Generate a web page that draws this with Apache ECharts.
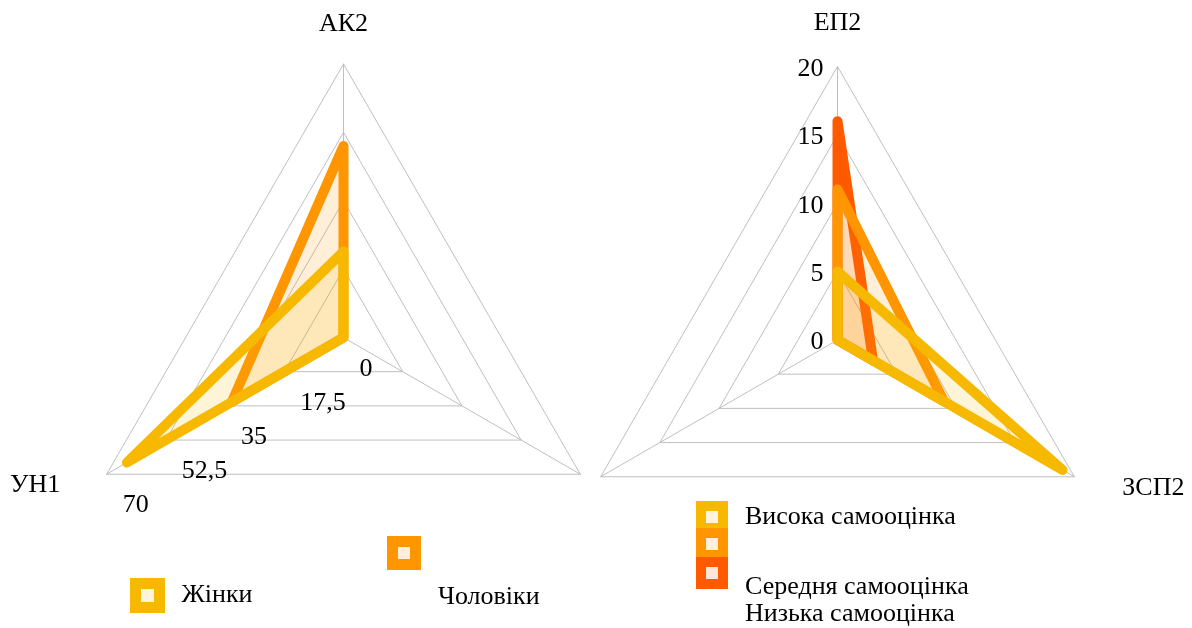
<!DOCTYPE html>
<html>
<head>
<meta charset="utf-8">
<script src="https://cdn.jsdelivr.net/npm/echarts@6/dist/echarts.min.js"></script>
<style>
  html, body { margin: 0; padding: 0; background: #fff; }
  #chart { width: 1192px; height: 628px; }
</style>
</head>
<body>
<div id="chart"></div>
<script>
// Left radar: results by gender
const genderAxes = ['АК2', 'УН1', ''];
const genderMax = 70;
const genderTicks = ['0', '17,5', '35', '52,5', '70'];
const women = [22, 64, 0];
const men = [49, 33, 0];

// Right radar: results by self-esteem level
const esteemAxes = ['ЕП2', '', 'ЗСП2'];
const esteemMax = 20;
const esteemTicks = ['0', '5', '10', '15', '20'];
const highEsteem = [5, 0, 19];
const midEsteem = [11, 0, 9];
const lowEsteem = [16, 0, 3];

const FONT = '"Liberation Serif", "Times New Roman", serif';
const FS = 26;
const GRID = '#BFBFBF';
const YELLOW = '#F7B900';
const ORANGE = '#FF9600';
const RED = '#FF5A00';

function makeRadar(center, names, max, ticks, labelAxis, margin, labelPadTop, gap) {
  const step = max / (ticks.length - 1);
  return {
    center: center,
    radius: 273.5,
    startAngle: 90,
    splitNumber: ticks.length - 1,
    shape: 'polygon',
    nameGap: gap,
    axisName: {
      color: '#000', fontFamily: FONT, fontSize: FS,
      formatter: function (name) {
        if (name === 'УН1') return '{l|' + name + '}';
        if (name === 'ЗСП2') return '{r|' + name + '}';
        return name;
      },
      rich: {
        l: { fontFamily: FONT, fontSize: FS, color: '#000', padding: [0, 23, 6, 0] },
        r: { fontFamily: FONT, fontSize: FS, color: '#000', padding: [0, 0, 8, 22] }
      }
    },
    indicator: names.map(function (n, i) {
      return { name: n, min: 0, max: max, axisLabel: { show: i === labelAxis } };
    }),
    axisLine: { lineStyle: { color: GRID, width: 1 } },
    splitLine: { lineStyle: { color: GRID, width: 1 } },
    splitArea: { show: false },
    axisTick: { show: false },
    axisLabel: {
      show: false, margin: margin, color: '#000', fontFamily: FONT, fontSize: FS,
      formatter: function (v) { return '{t|' + ticks[Math.round(v / step)] + '}'; },
      rich: {
        t: { fontFamily: FONT, fontSize: FS, color: '#000', padding: [labelPadTop, 0, 0, 0] }
      }
    }
  };
}

function radarSeries(radarIndex, name, values, color) {
  return {
    type: 'radar',
    radarIndex: radarIndex,
    name: name,
    symbol: 'none',
    silent: true,
    lineStyle: { color: color, width: 10, join: 'round', cap: 'round' },
    areaStyle: { color: color, opacity: 0.15 },
    itemStyle: { color: color },
    data: [{ name: name, value: values }]
  };
}

function swatch(name, color, inner, border) {
  return { name: name, icon: 'rect', itemStyle: { color: inner, borderColor: color, borderWidth: border } };
}

const textStyle = { color: '#000', fontFamily: FONT, fontSize: FS };
const noText = function () { return ''; };

// one legend box per swatch so each sits exactly where it belongs
function legendBox(left, top, size, item, withText) {
  return {
    left: left, top: top, padding: 0, selectedMode: false,
    itemWidth: size, itemHeight: size,
    data: [item],
    formatter: withText ? null : noText,
    textStyle: withText ? Object.assign({ padding: [0, 0, 0, 17] }, textStyle) : textStyle
  };
}

function label(text, x, y) {
  return {
    type: 'text', silent: true,
    style: { text: text, x: x, y: y, verticalAlign: 'middle', fill: '#000', font: FS + 'px ' + FONT }
  };
}

const chart = echarts.init(document.getElementById('chart'), null, { renderer: 'canvas' });
chart.setOption({
  backgroundColor: '#fff',
  animation: false,
  radar: [
    makeRadar([343.5, 337.5], genderAxes, genderMax, genderTicks, 1, 32, 7, 27),
    makeRadar([837.5, 340], esteemAxes, esteemMax, esteemTicks, 0, 14, 5, 30)
  ],
  legend: [
    legendBox(130, 578, 24, swatch('Жінки', YELLOW, '#FFF3DE', 11), true),
    legendBox(387, 536, 23, swatch('Чоловіки', ORANGE, '#FFEEDB', 11), false),
    legendBox(696, 501, 22, swatch('Висока самооцінка', YELLOW, '#FFF3DE', 10), true),
    legendBox(696, 528, 22, swatch('Середня самооцінка', ORANGE, '#FFEEDB', 10), false),
    legendBox(696, 557, 22, swatch('Низька самооцінка', RED, '#FFE4D8', 10), false)
  ],
  graphic: [
    label('Чоловіки', 438, 597),
    label('Середня самооцінка', 745, 587),
    label('Низька самооцінка', 745, 614)
  ],
  series: [
    radarSeries(0, 'Чоловіки', men, ORANGE),
    radarSeries(0, 'Жінки', women, YELLOW),
    radarSeries(1, 'Низька самооцінка', lowEsteem, RED),
    radarSeries(1, 'Середня самооцінка', midEsteem, ORANGE),
    radarSeries(1, 'Висока самооцінка', highEsteem, YELLOW)
  ]
});
</script>
</body>
</html>
